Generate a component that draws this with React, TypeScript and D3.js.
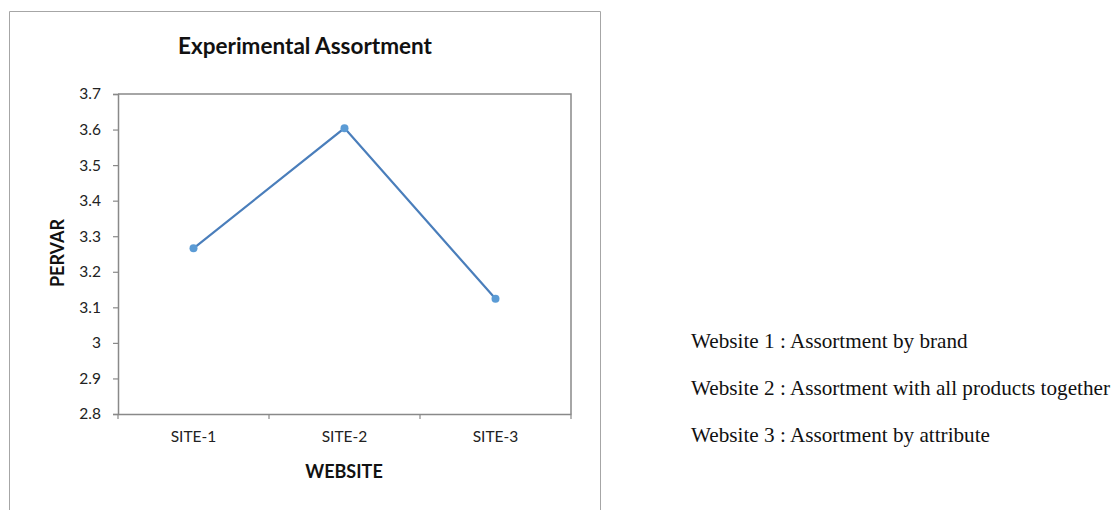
import React, { useEffect, useRef } from "react";
import * as d3 from "d3";

const categories = ["SITE-1", "SITE-2", "SITE-3"];
const values = [3.266, 3.604, 3.124];
const yTicks = [2.8, 2.9, 3.0, 3.1, 3.2, 3.3, 3.4, 3.5, 3.6, 3.7];
const notes = [
  "Website 1 : Assortment by brand",
  "Website 2 : Assortment with all products together",
  "Website 3 : Assortment by attribute",
];

export default function App() {
  const ref = useRef<SVGSVGElement>(null);
  useEffect(() => {
    const svg = d3.select(ref.current);
    svg.selectAll("*").remove();
    const W = 1117, H = 510;
    const left = 118, right = 571, top = 94, bottom = 414;
    const font = "Lato, 'Open Sans', sans-serif";
    const axisColor = "#898989";

    // outer chart border
    svg.append("path")
      .attr("d", `M9.5,${H + 2} V11.5 H600.5 V${H + 2}`)
      .attr("fill", "none").attr("stroke", "#a6a6a6").attr("stroke-width", 1);

    const x = d3.scaleBand<string>().domain(categories).range([left, right]);
    const y = d3.scaleLinear().domain([2.8, 3.7]).range([bottom, top]);

    // plot area border (top/right)
    svg.append("path")
      .attr("d", `M${left},${top} H${right} V${bottom}`)
      .attr("fill", "none").attr("stroke", axisColor).attr("stroke-width", 1.5);

    // y axis
    const yAxis = svg.append("g").attr("transform", `translate(${left},0)`)
      .call(d3.axisLeft(y).tickValues(yTicks).tickSize(5).tickPadding(12)
        .tickFormat((d) => d3.format("")(+(+d).toFixed(1))));
    yAxis.select(".domain").attr("stroke", axisColor).attr("stroke-width", 1.5);
    yAxis.selectAll(".tick line").attr("stroke", axisColor).attr("stroke-width", 1.2);
    yAxis.selectAll(".tick text").attr("fill", "#222").style("font-family", font).style("font-size", "15.5px");

    // x axis
    const xAxis = svg.append("g").attr("transform", `translate(0,${bottom})`)
      .call(d3.axisBottom(x).tickSize(0).tickPadding(17));
    xAxis.select(".domain").attr("stroke", axisColor).attr("stroke-width", 1.5);
    xAxis.selectAll(".tick text").attr("fill", "#222").style("font-family", font).style("font-size", "15.5px");
    const bounds = [...categories.map((c) => x(c)!), right];
    xAxis.selectAll(".bt").data(bounds).enter().append("line")
      .attr("x1", (d) => d).attr("x2", (d) => d).attr("y1", 0).attr("y2", 5)
      .attr("stroke", axisColor).attr("stroke-width", 1.2);

    // line
    const pts = categories.map((c, i) => [x(c)! + x.bandwidth() / 2, y(values[i])] as [number, number]);
    svg.append("path").attr("d", d3.line()(pts)!)
      .attr("fill", "none").attr("stroke", "#4a7ebb").attr("stroke-width", 2.2);
    svg.selectAll(".pt").data(pts).enter().append("circle")
      .attr("cx", (d) => d[0]).attr("cy", (d) => d[1]).attr("r", 4)
      .attr("fill", "#5b9bd5");

    // titles
    svg.append("text").attr("x", 305).attr("y", 54).attr("text-anchor", "middle")
      .style("font-family", font).style("font-weight", "bold").style("font-size", "22.5px")
      .attr("fill", "#111").text("Experimental Assortment");
    svg.append("text").attr("transform", `translate(64,253) rotate(-90)`).attr("text-anchor", "middle")
      .style("font-family", font).style("font-weight", "bold").style("font-size", "18px")
      .attr("fill", "#111").text("PERVAR");
    svg.append("text").attr("x", 344).attr("y", 478).attr("text-anchor", "middle")
      .style("font-family", font).style("font-weight", "bold").style("font-size", "18px")
      .attr("fill", "#111").text("WEBSITE");

    // notes
    svg.selectAll(".note").data(notes).enter().append("text")
      .attr("x", 691).attr("y", (_d, i) => 348 + i * 47)
      .style("font-family", "'Liberation Serif', 'Times New Roman', serif").style("font-size", "21.2px")
      .attr("fill", "#111").text((d) => d);
  }, []);
  return (
    <svg ref={ref} width={1117} height={510}
      style={{ position: "absolute", left: 0, top: 0, background: "#fff", display: "block" }} />
  );
}
